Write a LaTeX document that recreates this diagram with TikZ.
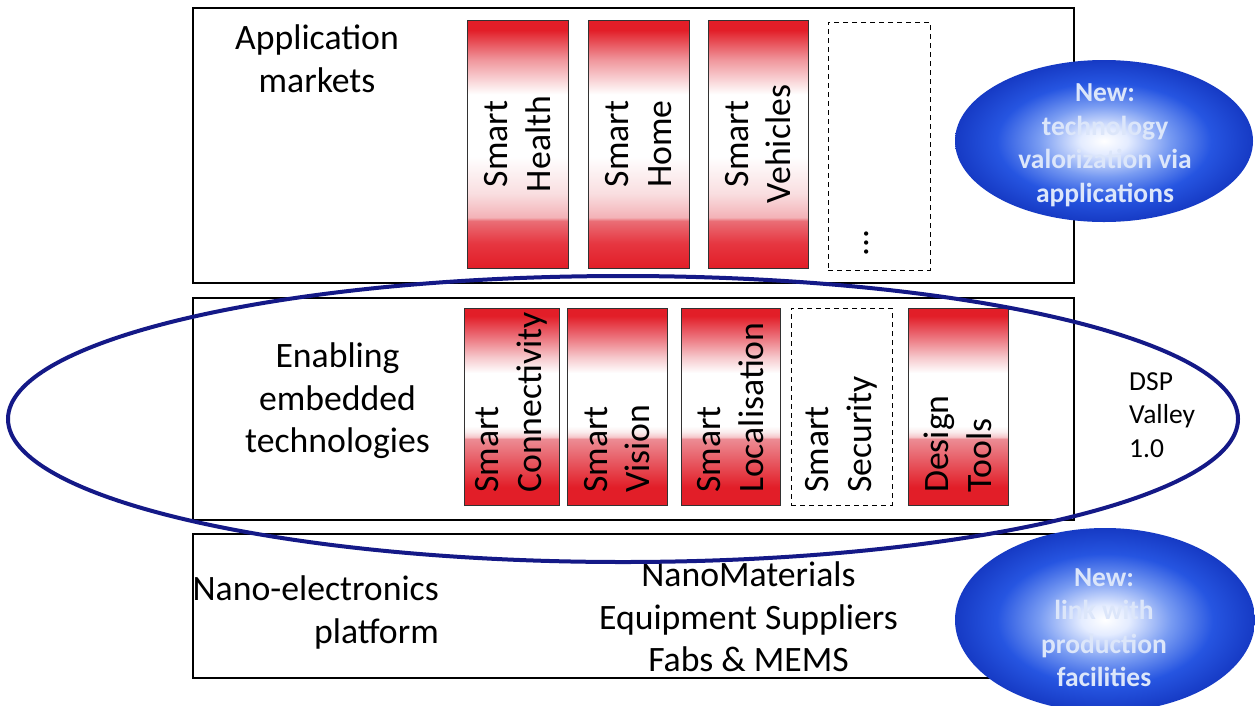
\documentclass[tikz,border=0pt]{standalone}
\usepackage{fontspec}
\setmainfont{Carlito}
\usetikzlibrary{shapes.geometric}

\definecolor{navyline}{RGB}{20,25,135}
\definecolor{rbred}{RGB}{226,30,40}
\definecolor{rbredb}{RGB}{230,55,65}
\definecolor{rbmid}{RGB}{234,110,118}
\definecolor{rbmidB}{RGB}{236,140,148}
\definecolor{rbpink}{RGB}{243,178,183}
\definecolor{rbpinkB}{RGB}{246,200,204}
\definecolor{rblight}{RGB}{249,222,224}
\definecolor{rblightB}{RGB}{250,235,236}
\definecolor{rbtopA}{RGB}{240,150,156}
\definecolor{rbtopB}{RGB}{234,100,110}
\definecolor{bubA}{RGB}{228,236,255}
\definecolor{bubB}{RGB}{120,155,242}
\definecolor{bubC}{RGB}{38,85,225}
\definecolor{bubD}{RGB}{22,58,196}
\definecolor{bubtxt}{RGB}{220,230,250}
\definecolor{boxline}{RGB}{50,50,50}

% top row bars (band low)
\pgfdeclareverticalshading{redbarA}{100bp}{color(0bp)=(rbred); color(25bp)=(rbred); color(30bp)=(rbredb); color(34.5bp)=(rbmid); color(35.2bp)=(rbpink); color(40bp)=(rblight); color(47.5bp)=(white); color(60bp)=(white); color(67bp)=(rbtopA); color(73bp)=(rbred); color(100bp)=(rbred)}
% middle row bars (band higher)
\pgfdeclareverticalshading{redbarB}{100bp}{color(0bp)=(rbred); color(25bp)=(rbred); color(29.5bp)=(rbred); color(41.75bp)=(rbmidB); color(42.3bp)=(rbpinkB); color(43.5bp)=(rblightB); color(45bp)=(white); color(58.5bp)=(white); color(62.5bp)=(rbpinkB); color(68.5bp)=(rbtopB); color(73bp)=(rbred); color(100bp)=(rbred)}
\pgfdeclareradialshading{bubble}{\pgfpoint{0bp}{0bp}}{color(0bp)=(white); color(4bp)=(bubA); color(11bp)=(bubB); color(18bp)=(bubC); color(25bp)=(bubD); color(50bp)=(bubD)}

\newcommand\bigsz{\fontsize{35.7pt}{42.5pt}\selectfont}
\newcommand\smlsz{\fontsize{27.5pt}{33.5pt}\selectfont}

\tikzset{
  panel/.style={draw=black, line width=1.4pt, fill=white, rectangle, inner sep=0pt},
  redboxA/.style={draw=boxline, line width=1pt, rectangle, shading=redbarA, inner sep=0pt},
  redboxB/.style={draw=boxline, line width=1pt, rectangle, shading=redbarB, inner sep=0pt},
  dashbox/.style={draw=black, line width=1pt, dash pattern=on 5pt off 4pt, rectangle, fill=white, inner sep=0pt},
  boxtext/.style={rotate=90, font=\bigsz, inner sep=0pt, text=black},
  bigtext/.style={font=\bigsz, inner sep=0pt, text=black},
  bubblenode/.style={ellipse, shading=bubble, inner sep=0pt},
  bubtext/.style={font=\smlsz\bfseries, text=bubtxt, align=center, inner sep=0pt},
  valley/.style={ellipse, draw=navyline, line width=4pt, inner sep=0pt}
}

\begin{document}
\begin{tikzpicture}[x=1pt, y=-1pt]
\path[use as bounding box, fill=white] (0,0) rectangle (1255,705);

% panels
\node[panel, minimum width=881, minimum height=275] (apps) at (633.5,145.5) {};
\node[panel, minimum width=881, minimum height=222] (tech) at (633.5,409) {};
\node[panel, minimum width=881, minimum height=144] (nano) at (633.5,606) {};

% application markets row
\node[redboxA, minimum width=101, minimum height=248] (health) at (517.5,144) {};
\node[redboxA, minimum width=101, minimum height=248] (home) at (638.5,144) {};
\node[redboxA, minimum width=100, minimum height=248] (vehicles) at (758,144) {};
\node[dashbox, minimum width=102, minimum height=248] (more) at (879,146) {};

\node[boxtext, align=center] (healthT) at (health.center) {Smart\\Health};
\node[boxtext, align=center] (homeT) at (home.center) {Smart\\Home};
\node[boxtext, align=center] (vehiclesT) at (vehicles.center) {Smart\\Vehicles};
\node[boxtext] (moreT) at (867,242.5) {...};

% enabling technologies row
\node[redboxB, minimum width=95, minimum height=197] (conn) at (511.5,406.5) {};
\node[redboxB, minimum width=100, minimum height=197] (vision) at (617,406.5) {};
\node[redboxB, minimum width=99, minimum height=197] (loc) at (730.5,406.5) {};
\node[dashbox, minimum width=101, minimum height=197] (sec) at (841.5,406.5) {};
\node[redboxB, minimum width=100, minimum height=197] (design) at (958,406.5) {};

\node[boxtext, align=left, anchor=west] (connT) at (conn.center |- 0,493) {Smart\\Connectivity};
\node[boxtext, align=left, anchor=west] (visionT) at (vision.center |- 0,493) {Smart\\Vision};
\node[boxtext, align=left, anchor=west] (locT) at (loc.center |- 0,493) {Smart\\Localisation};
\node[boxtext, align=left, anchor=west] (secT) at (sec.center |- 0,493) {Smart\\Security};
\node[boxtext, align=left, anchor=west] (designT) at (design.center |- 0,493) {Design\\Tools};

% left labels
\node[bigtext, align=center] (appsT) at (317,58.5) {Application\\markets};
\node[bigtext, align=center] (techT) at (337.5,401) {Enabling\\embedded\\technologies};
\node[bigtext, align=right, anchor=east] (nanoT) at (439,612.5) {Nano-electronics\\platform};
\node[bigtext, align=center] (suppT) at (748.5,617) {NanoMaterials\\Equipment Suppliers\\Fabs \& MEMS};

% DSP Valley outline
\node[valley, minimum width=1230, minimum height=286] (dsp) at (623,419) {};
\node[font=\smlsz, align=left, anchor=west, inner sep=0pt] (dspT) at (1129,415) {DSP\\Valley\\1.0};

% bubbles
\node[bubblenode, minimum width=298, minimum height=162] (bubTop) at (1104,141) {};
\node[bubtext] (bubTopT) at (1105,145) {New:\\technology\\valorization via\\applications};
\node[bubblenode, minimum width=300, minimum height=184] (bubBot) at (1105,620) {};
\node[bubtext] (bubBotT) at (1104,627.5) {New:\\link with\\production\\facilities};
\end{tikzpicture}
\end{document}
